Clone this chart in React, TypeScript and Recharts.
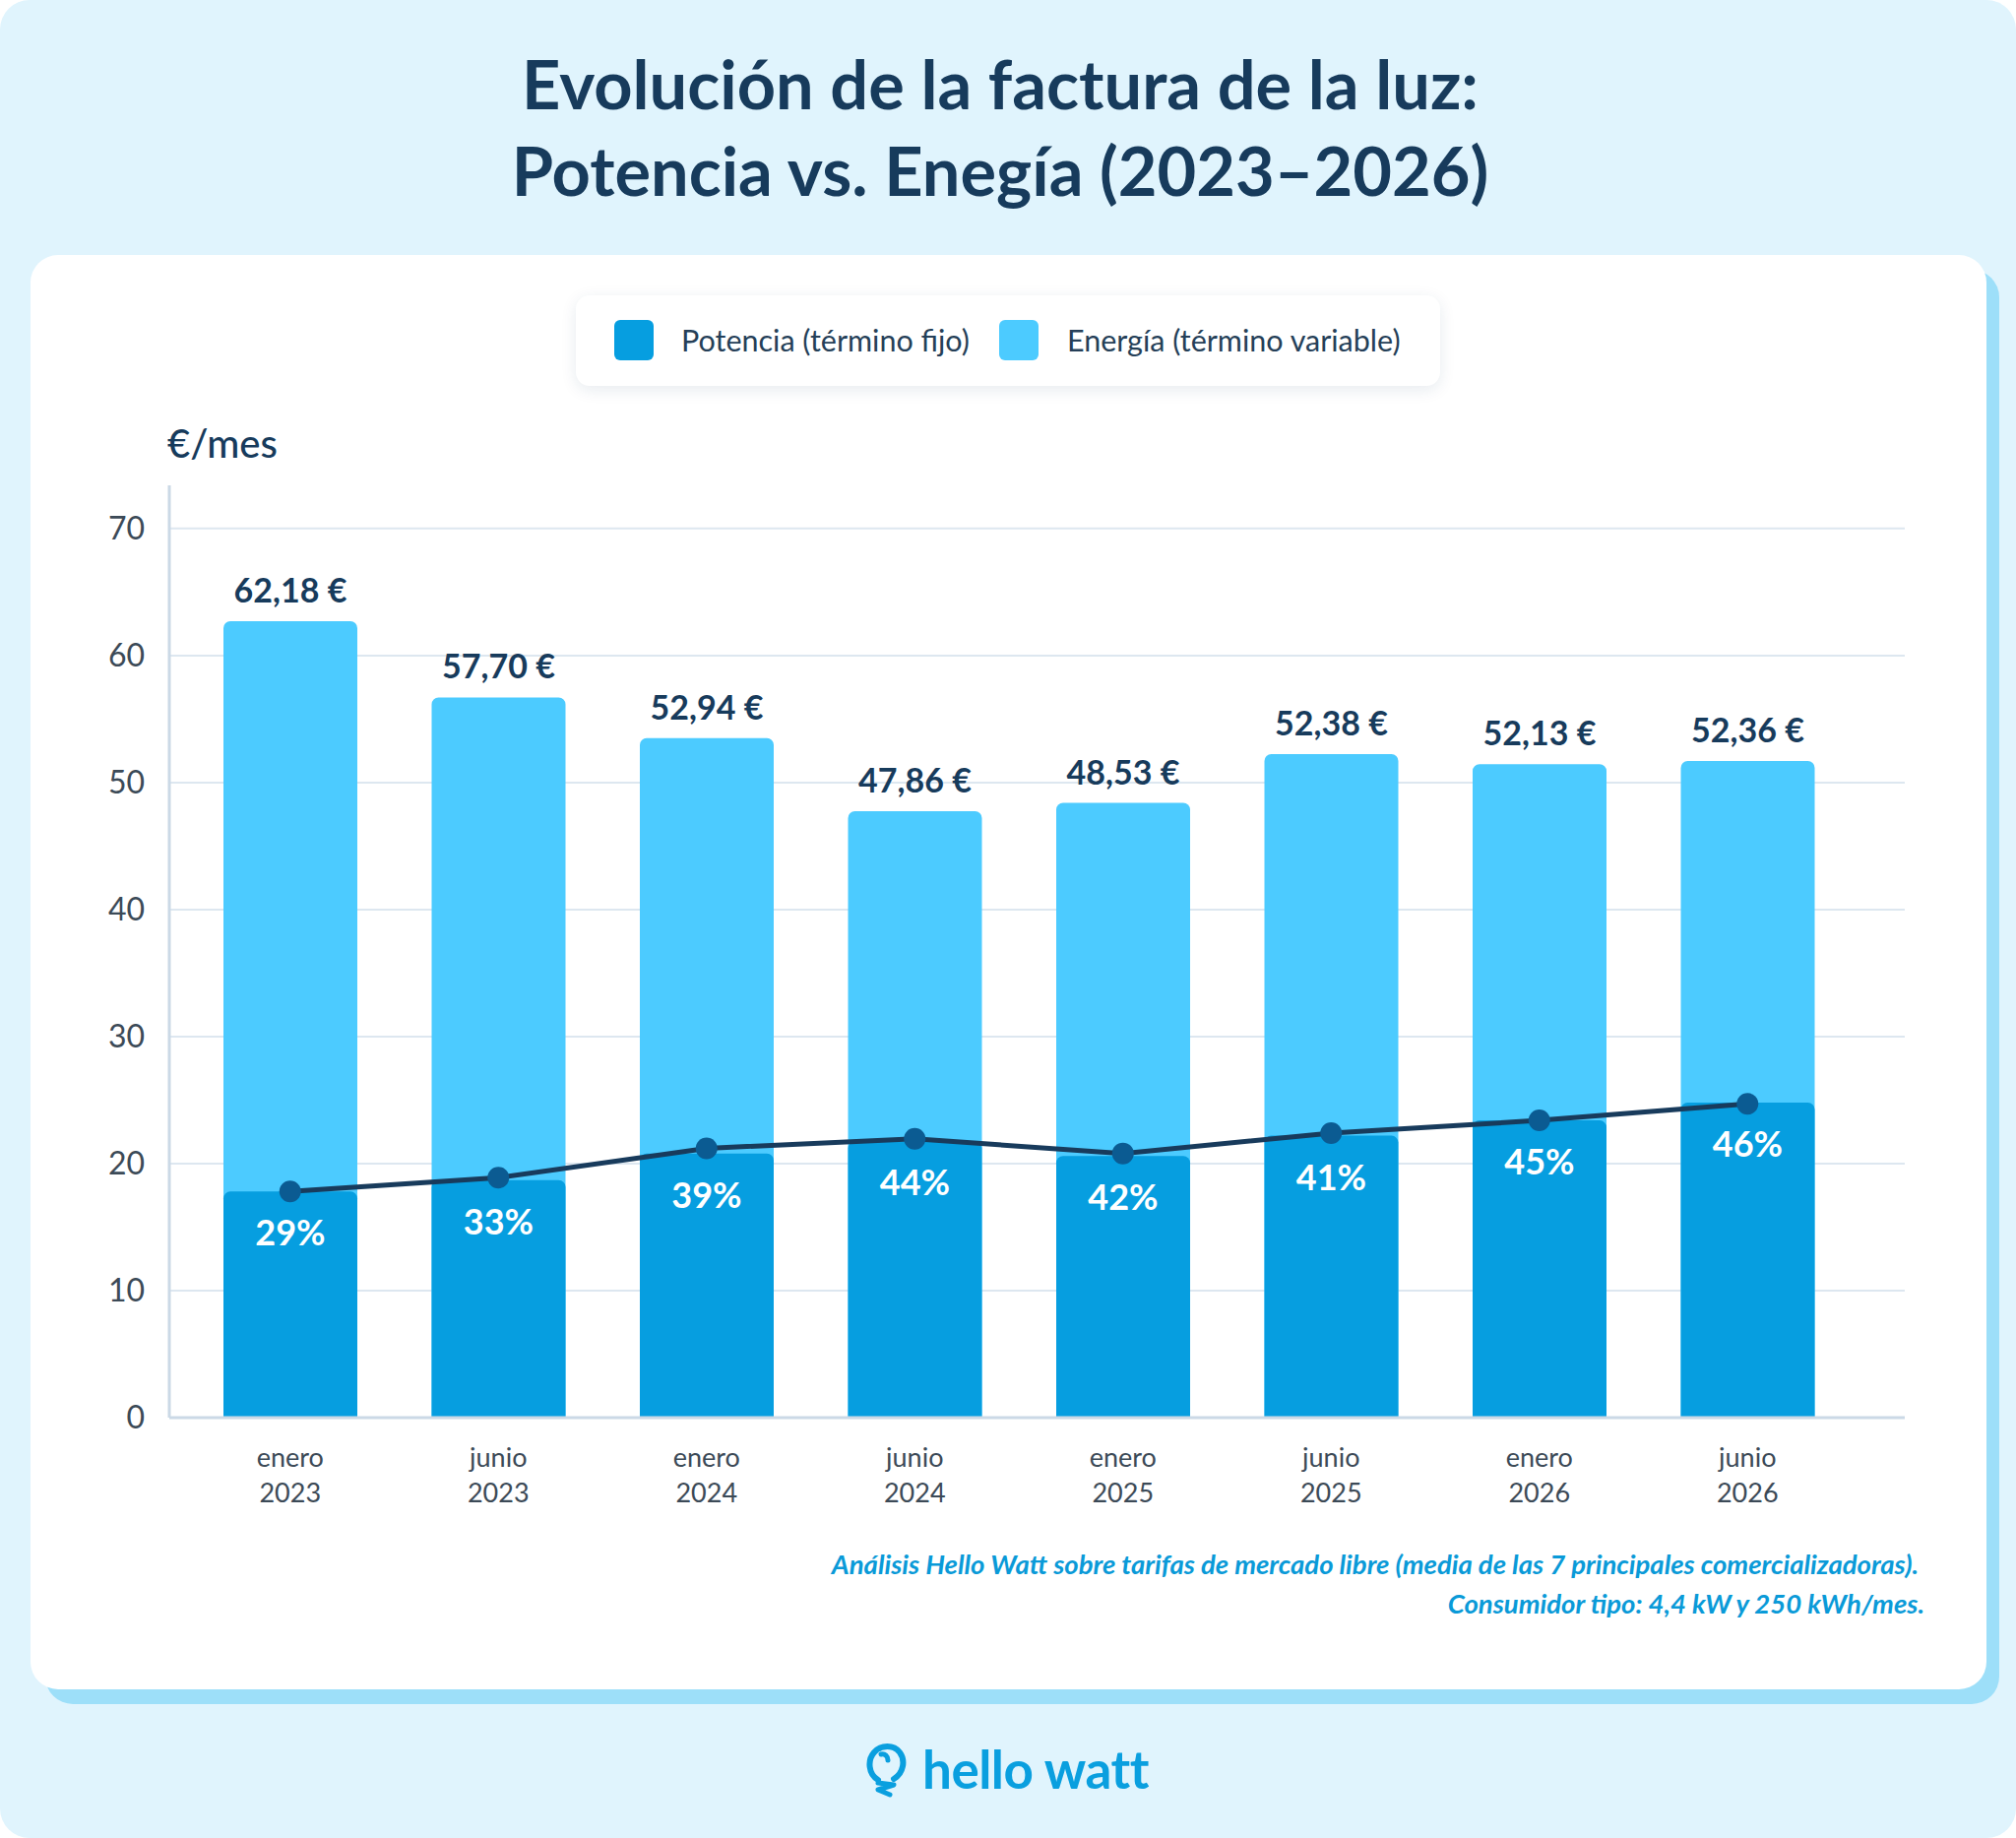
import React from 'react';
import { ComposedChart, Bar, Line, XAxis, YAxis, CartesianGrid, LabelList } from 'recharts';

const meses = ['enero', 'junio', 'enero', 'junio', 'enero', 'junio', 'enero', 'junio'];
const anios = ['2023', '2023', '2024', '2024', '2025', '2025', '2026', '2026'];
const totalFactura = [62.7, 56.7, 53.5, 47.75, 48.4, 52.25, 51.45, 51.7];
const potencia = [17.8, 18.7, 20.8, 21.75, 20.6, 22.2, 23.4, 24.8];
const pesoPotencia = [17.8, 18.9, 21.2, 21.95, 20.8, 22.4, 23.4, 24.7];
const etiquetasTotal = ['62,18 €', '57,70 €', '52,94 €', '47,86 €', '48,53 €', '52,38 €', '52,13 €', '52,36 €'];
const etiquetasPct = ['29%', '33%', '39%', '44%', '42%', '41%', '45%', '46%'];
const yTicks = [0, 10, 20, 30, 40, 50, 60, 70];

const data = meses.map((mes, i) => ({
  periodo: `${mes} ${anios[i]}`,
  total: totalFactura[i],
  potencia: potencia[i],
  peso: pesoPotencia[i],
  etiquetaTotal: etiquetasTotal[i],
  etiquetaPct: etiquetasPct[i],
}));

const NAVY = '#173b5c';
const FONT = 'Lato, "Noto Sans", sans-serif';

const XTick = ({ x, y, payload }: any) => {
  const [mes, anio] = String(payload.value).split(' ');
  return (
    <text x={x} y={y} textAnchor="middle" fill="#3c4a57" fontSize={27} fontFamily={FONT}>
      <tspan x={x} dy={48}>{mes}</tspan>
      <tspan x={x} dy={36}>{anio}</tspan>
    </text>
  );
};

const TotalLabel = ({ x, y, width, value }: any) => (
  <text x={x + width / 2} y={y - 19} textAnchor="middle" fill={NAVY} fontSize={34} fontWeight={700} fontFamily={FONT}>
    {value}
  </text>
);

const PctLabel = ({ x, y, width, value }: any) => (
  <text x={x + width / 2} y={y + 55} textAnchor="middle" fill="#ffffff" fontSize={36} fontWeight={700} fontFamily={FONT}>
    {value}
  </text>
);

const abs = (left: number, top: number, extra: React.CSSProperties = {}): React.CSSProperties => ({
  position: 'absolute',
  left,
  top,
  ...extra,
});

export default function App() {
  return (
    <div style={abs(0, 0, { width: 2048, height: 1867, background: '#e0f4fd', borderRadius: 30, overflow: 'hidden', fontFamily: FONT })}>
      <div style={abs(0, 40.5, { width: 2032, textAlign: 'center', fontSize: 68.5, lineHeight: '88px', fontWeight: 700, color: NAVY })}>
        Evolución de la factura de la luz:
        <br />
        Potencia vs. Enegía (2023–2026)
      </div>

      <div style={abs(46, 274, { width: 1985, height: 1457, background: '#9ddff9', borderRadius: 28 })} />
      <div style={abs(31, 259, { width: 1987, height: 1457, background: '#ffffff', borderRadius: 28 })} />

      <div
        style={abs(585, 300, {
          width: 878,
          height: 92,
          background: '#ffffff',
          borderRadius: 14,
          boxShadow: '0 4px 16px rgba(20, 60, 100, 0.10)',
        })}
      >
        <div style={abs(39, 25, { width: 40, height: 41, borderRadius: 6, background: '#069ee0' })} />
        <div style={abs(107, 25, { fontSize: 30.5, lineHeight: '41px', color: '#253f58', whiteSpace: 'nowrap' })}>
          Potencia (término fijo)
        </div>
        <div style={abs(430, 25, { width: 40, height: 41, borderRadius: 6, background: '#4ccbff' })} />
        <div style={abs(499, 25, { fontSize: 30.5, lineHeight: '41px', color: '#253f58', whiteSpace: 'nowrap' })}>
          Energía (término variable)
        </div>
      </div>

      <div style={abs(170, 430, { fontSize: 40, lineHeight: '40px', color: NAVY, fontWeight: 500 })}>€/mes</div>

      <div style={abs(0, 0)}>
        <ComposedChart
          width={2048}
          height={1867}
          data={data}
          barGap={-136}
          margin={{ top: 493, right: 113, bottom: 327, left: 72 }}
        >
          <CartesianGrid vertical={false} horizontalValues={yTicks} stroke="#dde7f0" strokeWidth={2} />
          <XAxis
            dataKey="periodo"
            height={100}
            padding={{ left: 17, right: 54 }}
            axisLine={{ stroke: '#cbd9e6', strokeWidth: 3 }}
            tickLine={false}
            tickSize={0}
            tick={<XTick />}
            interval={0}
          />
          <YAxis
            width={100}
            domain={[0, 73.4]}
            ticks={yTicks}
            allowDataOverflow
            axisLine={{ stroke: '#cbd9e6', strokeWidth: 3 }}
            tickLine={false}
            tickSize={0}
            tickMargin={25}
            tick={{ fill: '#3c4a57', fontSize: 32, fontFamily: FONT }}
          />
          <Bar dataKey="total" fill="#4ccbff" barSize={136} radius={[7, 7, 0, 0]} isAnimationActive={false}>
            <LabelList dataKey="etiquetaTotal" content={<TotalLabel />} />
          </Bar>
          <Bar dataKey="potencia" fill="#069ee0" barSize={136} radius={[7, 7, 0, 0]} isAnimationActive={false}>
            <LabelList dataKey="etiquetaPct" content={<PctLabel />} />
          </Bar>
          <Line
            dataKey="peso"
            type="linear"
            stroke="#183b5c"
            strokeWidth={5}
            dot={{ r: 11, fill: '#0b5b92', stroke: 'none' }}
            activeDot={false}
            isAnimationActive={false}
          />
        </ComposedChart>
      </div>

      <div style={abs(0, 1569, { width: 1949, textAlign: 'right', fontSize: 27.5, lineHeight: '40px', fontWeight: 700, fontStyle: 'italic', color: '#0a9ad8' })}>
        Análisis Hello Watt sobre tarifas de mercado libre (media de las 7 principales comercializadoras).
      </div>
      <div style={abs(0, 1609, { width: 1955, textAlign: 'right', fontSize: 27.5, lineHeight: '40px', fontWeight: 700, fontStyle: 'italic', color: '#0a9ad8' })}>
        Consumidor tipo: 4,4 kW y 250 kWh/mes.
      </div>

      <svg style={abs(878, 1768)} width={44} height={60} viewBox="0 0 44 60">
        <path
          d="M14 40 C4 34 3 20 10 12 C17 4 30 4 36 12 C42 20 40 33 30 39"
          fill="none"
          stroke="#0a9fdf"
          strokeWidth={6}
          strokeLinecap="round"
        />
        <path d="M17 14 C21 13 24 16 24 20" fill="none" stroke="#0a9fdf" strokeWidth={5} strokeLinecap="round" />
        <path d="M14 43 L30 45 L14 50 L26 55" fill="none" stroke="#0a9fdf" strokeWidth={5} strokeLinecap="round" strokeLinejoin="round" />
      </svg>
      <div style={abs(937, 1770, { fontSize: 53, lineHeight: '54px', fontWeight: 700, color: '#0a9fdf', letterSpacing: -0.5 })}>
        hello watt
      </div>
    </div>
  );
}
